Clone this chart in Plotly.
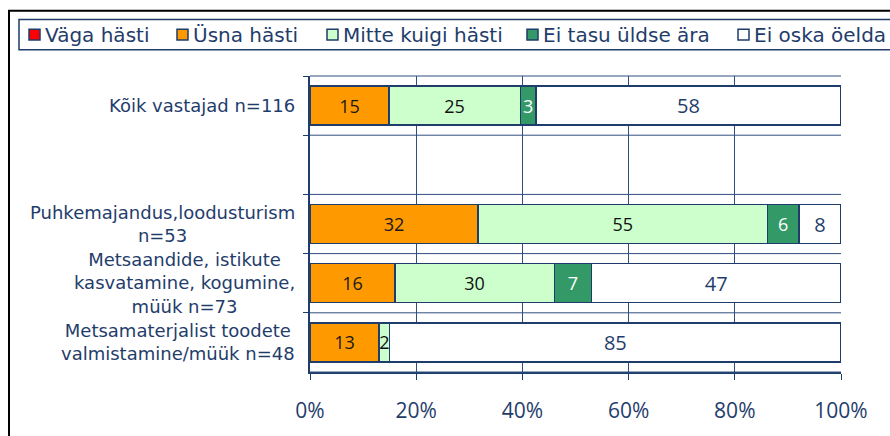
import plotly.graph_objects as go

# Survey groups, top to bottom (the second row is an intentional spacer)
categories = ["Kõik vastajad", "tühi", "Puhkemajandus", "Metsaandide", "Metsamaterjal"]
category_labels = [
    "Kõik vastajad n=116",
    "",
    "Puhkemajandus,loodusturism<br>n=53",
    "Metsaandide, istikute<br>kasvatamine, kogumine,<br>müük n=73",
    "Metsamaterjalist toodete<br>valmistamine/müük n=48",
]

series_names = ["Väga hästi", "Üsna hästi", "Mitte kuigi hästi", "Ei tasu üldse ära", "Ei oska öelda"]
vaga_hasti = [0, None, 0, 0, 0]
usna_hasti = [15, None, 32, 16, 13]
mitte_kuigi = [25, None, 55, 30, 2]
ei_tasu = [3, None, 6, 7, 0]
ei_oska = [58, None, 8, 47, 85]
series_values = [vaga_hasti, usna_hasti, mitte_kuigi, ei_tasu, ei_oska]

colors = ["#FF0000", "#FF9900", "#CCFFCC", "#339966", "#FFFFFF"]
text_colors = ["#FFFFFF", "#1A1A1A", "#111111", "#FFFFFF", "#1F3D6B"]
text_sizes = [18, 18, 18, 18, 20]
x_ticks = [0, 20, 40, 60, 80, 100]
x_tick_labels = [f"{v}%" for v in x_ticks]

NAVY = "#1F3D6B"
GRID = "#2F4E7E"

W, H = 890, 436
L, R, T, B = 310, 49, 76, 56
PW, PH = W - L - R, H - T - B


def px(x):
    return (x - L) / PW


def py(y):
    return (H - B - y) / PH


fig = go.Figure()

for name, vals, col, tcol, tsize in zip(series_names, series_values, colors, text_colors, text_sizes):
    plot_vals = [v if v else None for v in vals]
    fig.add_trace(go.Bar(
        name=name,
        y=categories,
        x=plot_vals,
        orientation="h",
        marker=dict(color=col, line=dict(color=NAVY, width=1.5)),
        text=[str(v) if v else "" for v in vals],
        textposition="inside",
        insidetextanchor="middle",
        textangle=0,
        constraintext="none",
        textfont=dict(family="Open Sans", size=tsize, color=tcol),
        cliponaxis=False,
        showlegend=False,
        hovertemplate="%{y}: %{text}<extra>" + name + "</extra>",
    ))

shapes = []
annotations = []

# horizontal rules on the category boundaries (they fall in the gaps between bars)
n_cat = len(categories)
for i in range(n_cat + 1):
    yb = 1 - i / n_cat
    shapes.append(dict(type="line", xref="paper", yref="paper", x0=0, x1=1,
                       y0=yb, y1=yb, layer="above",
                       line=dict(color=GRID, width=1)))

# outer frame of the chart
shapes.append(dict(type="rect", xref="paper", yref="paper",
                   x0=px(9), x1=px(905), y0=py(9), y1=py(460),
                   line=dict(color="#000000", width=2), layer="below"))

# legend box with its entries
shapes.append(dict(type="rect", xref="paper", yref="paper",
                   x0=px(19), x1=px(905), y0=py(18), y1=py(49),
                   line=dict(color=NAVY, width=1.5), fillcolor="#FFFFFF"))
marker_left = [29, 177, 327, 527, 738]
for name, col, mx in zip(series_names, colors, marker_left):
    shapes.append(dict(type="rect", xref="paper", yref="paper",
                       x0=px(mx), x1=px(mx + 11), y0=py(28), y1=py(39),
                       line=dict(color=NAVY, width=1.5), fillcolor=col))
    annotations.append(dict(xref="paper", yref="paper", x=px(mx + 14), y=py(33.5),
                            xanchor="left", yanchor="middle", showarrow=False,
                            text=name, font=dict(family="DejaVu Sans", size=20, color=NAVY)))

# category labels, centred line by line
for cat, lab in zip(categories, category_labels):
    if lab:
        annotations.append(dict(xref="paper", yref="y", x=0, y=cat, xshift=-13,
                                xanchor="right", yanchor="middle", align="center",
                                showarrow=False, text=lab,
                                font=dict(family="DejaVu Sans", size=18, color=NAVY)))

fig.update_layout(
    width=W, height=H,
    margin=dict(l=L, r=R, t=T, b=B, pad=0),
    paper_bgcolor="#FFFFFF",
    plot_bgcolor="#FFFFFF",
    barmode="stack",
    barnorm="percent",
    bargap=0.34,
    showlegend=False,
    shapes=shapes,
    annotations=annotations,
    xaxis=dict(
        range=[0, 100], tickmode="array", tickvals=x_ticks, ticktext=x_tick_labels,
        showgrid=True, gridcolor=GRID, gridwidth=1, zeroline=False,
        showline=True, linecolor=NAVY, linewidth=1.5,
        ticks="outside", ticklen=6, tickcolor=NAVY, ticklabelstandoff=13,
        tickfont=dict(family="Open Sans", size=21, color=NAVY),
        fixedrange=True,
    ),
    yaxis=dict(
        type="category", categoryorder="array", categoryarray=categories,
        autorange="reversed", tickson="boundaries",
        showgrid=False,
        showline=True, linecolor=NAVY, linewidth=1.5,
        ticks="outside", ticklen=5, tickcolor=NAVY,
        showticklabels=False, fixedrange=True,
    ),
)

fig.write_html("out.html")
